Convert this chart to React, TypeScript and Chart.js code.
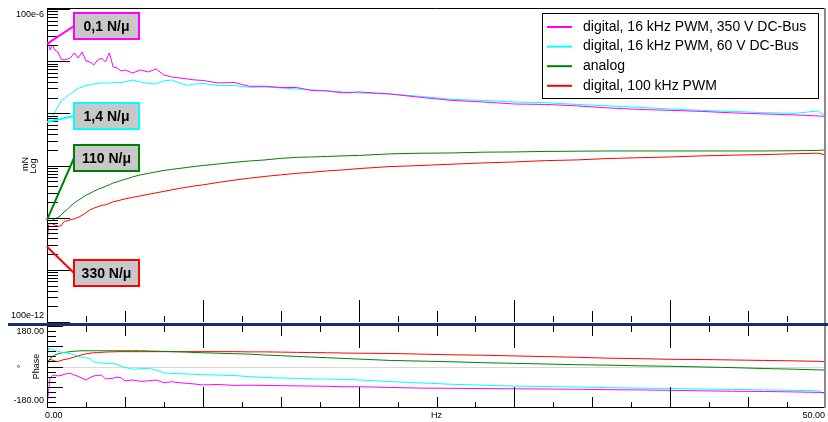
import React, { useEffect, useRef } from 'react';
import { Chart, registerables } from 'chart.js';

Chart.register(...registerables);

// ---------------- data ----------------
const frequencyHz = [
  0, 0.1, 0.2, 0.35, 0.5, 0.7, 0.9, 1.1, 1.3, 1.5,
  1.75, 2, 2.25, 2.5, 2.75, 3, 3.25, 3.5, 3.75, 4,
  4.25, 4.5, 4.75, 5, 5.5, 6, 6.5, 7, 7.5, 8,
  8.5, 9, 9.5, 10, 11, 12, 13, 14, 15, 16,
  17, 18, 19, 20, 22, 24, 26, 28, 30, 32,
  34, 36, 38, 40, 42, 44, 46, 48, 49.5, 50,
];

const magDigital350 = [
  2.14e-5, 2.23e-5, 1.64e-5, 2.04e-5, 1.64e-5, 1.5e-5, 1.1e-5, 1.05e-5, 1.1e-5, 1.15e-5,
  1.44e-5, 1.15e-5, 1.5e-5, 1.01e-5, 9.65e-6, 8.46e-6, 1.05e-5, 1.15e-5, 9.65e-6, 1.44e-5,
  7.74e-6, 7.41e-6, 6.49e-6, 6.78e-6, 5.94e-6, 6.78e-6, 6.21e-6, 7.09e-6, 5.44e-6, 4.98e-6,
  4.77e-6, 4.56e-6, 4.36e-6, 4.27e-6, 3.82e-6, 3.9e-6, 3.3e-6, 3.3e-6, 3.13e-6, 3.13e-6,
  2.75e-6, 2.69e-6, 2.46e-6, 2.57e-6, 2.35e-6, 2.02e-6, 1.77e-6, 1.65e-6, 1.51e-6, 1.48e-6,
  1.39e-6, 1.27e-6, 1.19e-6, 1.14e-6, 1.09e-6, 1.02e-6, 9.74e-7, 9.32e-7, 8.92e-7, 8.73e-7,
];
const magDigital60 = [
  6.84e-7, 7.15e-7, 8.17e-7, 8.92e-7, 1.06e-6, 1.33e-6, 1.73e-6, 1.89e-6, 2.15e-6, 2.35e-6,
  2.69e-6, 3.0e-6, 3.2e-6, 3.42e-6, 3.5e-6, 3.66e-6, 3.74e-6, 3.82e-6, 3.82e-6, 3.82e-6,
  3.91e-6, 3.91e-6, 3.91e-6, 4.0e-6, 4.36e-6, 4.0e-6, 3.74e-6, 3.66e-6, 4.18e-6, 4.36e-6,
  3.82e-6, 3.42e-6, 3.66e-6, 3.74e-6, 3.42e-6, 3.42e-6, 3.16e-6, 3.2e-6, 3.07e-6, 2.93e-6,
  2.81e-6, 2.69e-6, 2.57e-6, 2.46e-6, 2.35e-6, 2.11e-6, 1.85e-6, 1.77e-6, 1.65e-6, 1.6e-6,
  1.48e-6, 1.39e-6, 1.3e-6, 1.21e-6, 1.14e-6, 1.09e-6, 1.03e-6, 1.0e-6, 1.11e-6, 8.73e-7,
];
const magAnalog = [
  9.08e-9, 8.88e-9, 8.69e-9, 8.88e-9, 9.48e-9, 1.01e-8, 1.11e-8, 1.29e-8, 1.44e-8, 1.65e-8,
  1.92e-8, 2.15e-8, 2.4e-8, 2.68e-8, 2.92e-8, 3.19e-8, 3.48e-8, 3.72e-8, 3.98e-8, 4.25e-8,
  4.64e-8, 4.85e-8, 5.18e-8, 5.42e-8, 6.05e-8, 6.61e-8, 7.06e-8, 7.54e-8, 8.05e-8, 8.42e-8,
  8.8e-8, 9.19e-8, 9.61e-8, 1.0e-7, 1.07e-7, 1.15e-7, 1.22e-7, 1.28e-7, 1.37e-7, 1.43e-7,
  1.46e-7, 1.49e-7, 1.53e-7, 1.56e-7, 1.67e-7, 1.72e-7, 1.74e-7, 1.8e-7, 1.82e-7, 1.86e-7,
  1.88e-7, 1.9e-7, 1.9e-7, 1.9e-7, 1.9e-7, 1.9e-7, 1.9e-7, 1.92e-7, 1.95e-7, 1.99e-7,
];
const magDigital100k = [
  2.76e-9, 7.28e-9, 7.78e-9, 7.61e-9, 7.28e-9, 6.81e-9, 6.96e-9, 8.5e-9, 8.69e-9, 9.08e-9,
  9.48e-9, 1.01e-8, 1.11e-8, 1.24e-8, 1.41e-8, 1.52e-8, 1.61e-8, 1.72e-8, 1.76e-8, 1.88e-8,
  2.01e-8, 2.1e-8, 2.19e-8, 2.29e-8, 2.45e-8, 2.62e-8, 2.8e-8, 2.99e-8, 3.19e-8, 3.41e-8,
  3.64e-8, 3.84e-8, 4.07e-8, 4.25e-8, 4.74e-8, 5.23e-8, 5.71e-8, 6.18e-8, 6.61e-8, 7.06e-8,
  7.44e-8, 7.88e-8, 8.23e-8, 8.72e-8, 9.53e-8, 1.0e-7, 1.06e-7, 1.12e-7, 1.17e-7, 1.24e-7,
  1.28e-7, 1.36e-7, 1.41e-7, 1.46e-7, 1.53e-7, 1.58e-7, 1.62e-7, 1.68e-7, 1.72e-7, 1.6e-7,
];

const phaseDigital350 = [
  -180, -110, -50, -40, -38, -42, -40, -35, -32, -30,
  -38, -44, -52, -60, -50, -42, -40, -38, -55, -54,
  -52, -47, -50, -64, -60, -66, -64, -60, -72, -68,
  -72, -75, -78, -82, -80, -84, -83, -84, -85, -86,
  -87, -88, -90, -90, -93, -96, -97, -98, -99, -100,
  -101, -103, -104, -106, -108, -110, -111, -113, -115, -116,
];
const phaseDigital60 = [
  40, 81, 79, 76, 72, 67, 64, 62, 60, 58,
  52, 46, 41, 38, 36, 21, 18, 15, 14, 14,
  14, 8, 2, -4, -12, -10, -8, -16, -28, -31,
  -32, -33, -35, -36, -38, -40, -45, -49, -51, -53,
  -55, -56, -57, -60, -67, -73, -79, -83, -87, -89,
  -91, -94, -96, -98, -100, -102, -104, -106, -108, -125,
];
const phaseAnalog = [
  7, 24, 36, 44, 51, 56, 60, 62, 64, 66,
  68, 69, 70, 70, 70, 70, 70, 70, 70, 70,
  70, 70, 70, 70, 70, 70, 69, 68, 67, 66,
  65, 64, 62, 61, 59, 57, 55, 51, 48, 45,
  42, 39, 36, 33, 27, 24, 21, 17, 14, 11,
  8, 6, 3, 1, -2, -5, -9, -12, -15, -16,
];
const phaseDigital100k = [
  14, 24, 32, 28, 24, 22, 27, 31, 33, 37,
  42, 47, 52, 56, 59, 61, 62, 63, 64, 65,
  65, 66, 66, 66, 66, 66, 66, 66, 66, 66,
  66, 66, 66, 66, 66, 66, 65, 65, 64, 63,
  62, 61, 60, 59, 58, 55, 52, 50, 47, 44,
  41, 37, 35, 32, 31, 29, 27, 25, 23, 21,
];

const seriesNames = [
  'digital, 16 kHz PWM, 350 V DC-Bus',
  'digital, 16 kHz PWM, 60 V DC-Bus',
  'analog',
  'digital, 100 kHz PWM',
];
const magSeries = [magDigital350, magDigital60, magAnalog, magDigital100k];
const phaseSeries = [phaseDigital350, phaseDigital60, phaseAnalog, phaseDigital100k];
const stiffnessLabels = ['0,1 N/μ', '1,4 N/μ', '110 N/μ', '330 N/μ'];

const magTickValues = [1e-4, 1e-10];
const magTickLabels = ['100e-6', '100e-12'];
const phaseTickValues = [180, -180];
const phaseTickLabels = ['180.00', '-180.00'];
const freqTickValues = [0, 50];
const freqTickLabels = ['0.00', '50.00'];
const freqTitle = 'Hz';
const magTitles = ['mN', 'Log'];
const phaseTitles = ['°', 'Phase'];

// ---------------- styles / layout ----------------
const COLORS = ['#ff00ff', '#00ffff', '#008000', '#ff0000'];
const FONT = '"Liberation Sans", Arial, Helvetica, sans-serif';
const BOX_TOPS = [13, 103, 145, 260];
const BOX_LEFT_OFFSET = 27;
const BOX_W = 65;
const BOX_H = 26;

function line(ctx: any, x1: number, y1: number, x2: number, y2: number) {
  ctx.beginPath();
  ctx.moveTo(x1, y1);
  ctx.lineTo(x2, y2);
  ctx.stroke();
}

function drawFreqTicks(ctx: any, xs: any, y0: number, dir: number, lens: number[]) {
  ctx.strokeStyle = '#000';
  ctx.lineWidth = 1;
  for (let i = 1; i < 20; i++) {
    const f = i * 2.5;
    const x = Math.round(xs.getPixelForValue(f)) + 0.5;
    const len = f % 10 === 0 ? lens[0] : f % 5 === 0 ? lens[1] : lens[2];
    line(ctx, x, y0, x, y0 + dir * len);
  }
}

const topOverlay = {
  id: 'topOverlay',
  afterDatasetsDraw(chart: any) {
    const { ctx, chartArea: a, scales } = chart;
    const xs = scales.x;
    const ys = scales.y;
    ctx.save();
    // frame
    ctx.strokeStyle = '#000';
    ctx.lineWidth = 1;
    line(ctx, a.left, a.top - 0.5, a.right, a.top - 0.5);
    line(ctx, a.left + 0.5, a.top - 1, a.left + 0.5, a.bottom + 1);
    ctx.fillStyle = '#8a8a8a';
    ctx.fillRect(a.right - 2, a.top - 1, 2, a.bottom - a.top + 2);

    // y ticks (log)
    ctx.strokeStyle = '#000';
    for (let e = -10; e <= -4; e++) {
      for (let m = 1; m <= 9; m++) {
        const v = m * Math.pow(10, e);
        if (v > 1.0001e-4) break;
        const y = Math.round(ys.getPixelForValue(v)) + 0.5;
        const len = m === 1 ? 23 : 11;
        line(ctx, a.left, y, a.left + len, y);
      }
    }
    // x ticks upward from bottom
    drawFreqTicks(ctx, xs, a.bottom, -1, [22, 11, 6]);

    // separator
    ctx.fillStyle = '#14306f';
    ctx.fillRect(8, a.bottom + 1, 820, 3);

    // tick labels
    ctx.fillStyle = '#000';
    ctx.font = `9px ${FONT}`;
    ctx.textAlign = 'right';
    ctx.textBaseline = 'middle';
    magTickValues.forEach((v, i) => {
      const y = ys.getPixelForValue(v) + (i === 0 ? 6 : -6);
      ctx.fillText(magTickLabels[i], a.left - 3, y);
    });
    // axis titles
    ctx.textAlign = 'center';
    const titleX = [25.5, 34];
    const titleY = [164, 166];
    magTitles.forEach((t, i) => {
      ctx.save();
      ctx.translate(titleX[i], titleY[i]);
      ctx.rotate(-Math.PI / 2);
      ctx.fillText(t, 0, 0);
      ctx.restore();
    });

    // annotations
    magSeries.forEach((s, i) => {
      const ax = xs.getPixelForValue(frequencyHz[0]);
      const ay = ys.getPixelForValue(s[0]);
      const bx = a.left + BOX_LEFT_OFFSET;
      const by = BOX_TOPS[i];
      ctx.strokeStyle = COLORS[i];
      ctx.lineWidth = 2;
      line(ctx, ax, ay, bx, by + BOX_H / 2);
      ctx.fillStyle = '#c8c8c8';
      ctx.fillRect(bx, by, BOX_W, BOX_H);
      ctx.strokeRect(bx, by, BOX_W, BOX_H);
      ctx.fillStyle = '#000';
      ctx.font = `bold 14px ${FONT}`;
      ctx.textAlign = 'center';
      ctx.textBaseline = 'middle';
      ctx.fillText(stiffnessLabels[i], bx + BOX_W / 2, by + BOX_H / 2 + 1);
    });

    // legend
    const lx = 542.5, ly = 13.5, lw = 276, lh = 85;
    ctx.fillStyle = '#fff';
    ctx.fillRect(lx, ly, lw, lh);
    ctx.strokeStyle = '#000';
    ctx.lineWidth = 1;
    ctx.strokeRect(lx, ly, lw, lh);
    ctx.font = `14px ${FONT}`;
    ctx.textAlign = 'left';
    ctx.textBaseline = 'middle';
    seriesNames.forEach((n, i) => {
      const y = 27 + i * 19.6;
      ctx.strokeStyle = COLORS[i];
      ctx.lineWidth = 2;
      line(ctx, 547, y, 572, y);
      ctx.fillStyle = '#000';
      ctx.fillText(n, 583, y);
    });
    ctx.restore();
  },
};

const bottomOverlay = {
  id: 'bottomOverlay',
  beforeDatasetsDraw(chart: any) {
    const { ctx, chartArea: a, scales } = chart;
    const y0 = Math.round(scales.y.getPixelForValue(0)) + 0.5;
    ctx.save();
    ctx.strokeStyle = '#d8d8d8';
    ctx.lineWidth = 1;
    line(ctx, a.left, y0, a.right, y0);
    ctx.restore();
  },
  afterDatasetsDraw(chart: any) {
    const { ctx, chartArea: a, scales } = chart;
    const xs = scales.x;
    const ys = scales.y;
    ctx.save();
    ctx.strokeStyle = '#000';
    ctx.lineWidth = 1;
    line(ctx, a.left + 0.5, a.top, a.left + 0.5, a.bottom + 1);
    line(ctx, a.left, a.bottom + 0.5, a.right, a.bottom + 0.5);
    ctx.fillStyle = '#8a8a8a';
    ctx.fillRect(a.right - 2, a.top, 2, a.bottom - a.top + 1);

    // phase ticks
    ctx.strokeStyle = '#000';
    for (let k = -8; k <= 8; k++) {
      const v = k * 22.5;
      const y = Math.round(ys.getPixelForValue(v)) + 0.5;
      const len = k % 4 === 0 ? 16 : 9;
      line(ctx, a.left, y, a.left + len, y);
    }
    drawFreqTicks(ctx, xs, a.top, 1, [22, 10, 6]);
    drawFreqTicks(ctx, xs, a.bottom, -1, [20, 10, 5]);

    ctx.fillStyle = '#000';
    ctx.font = `9px ${FONT}`;
    ctx.textAlign = 'right';
    ctx.textBaseline = 'middle';
    phaseTickValues.forEach((v, i) => {
      const y = ys.getPixelForValue(v) + (i === 0 ? 6 : -6);
      ctx.fillText(phaseTickLabels[i], a.left - 3, y);
    });
    const ly = a.bottom + 9;
    ctx.textAlign = 'left';
    ctx.fillText(freqTickLabels[0], xs.getPixelForValue(freqTickValues[0]) - 2, ly);
    ctx.textAlign = 'right';
    ctx.fillText(freqTickLabels[1], xs.getPixelForValue(freqTickValues[1]) - 1, ly);
    ctx.textAlign = 'center';
    ctx.fillText(freqTitle, xs.getPixelForValue(25), ly);

    const cy = ys.getPixelForValue(0);
    const tx = [22, 36.5];
    phaseTitles.forEach((t, i) => {
      ctx.save();
      ctx.translate(tx[i], cy);
      ctx.rotate(-Math.PI / 2);
      ctx.fillText(t, 0, 0);
      ctx.restore();
    });
    ctx.restore();
  },
};

function makeDatasets(series: number[][]) {
  return series.map((s, i) => ({
    label: seriesNames[i],
    data: frequencyHz.map((f, j) => ({ x: f, y: s[j] })),
    borderColor: COLORS[i],
    backgroundColor: COLORS[i],
    borderWidth: 1,
    pointRadius: 0,
    fill: false,
    tension: 0,
  }));
}

export default function App() {
  const topRef = useRef<HTMLCanvasElement>(null);
  const botRef = useRef<HTMLCanvasElement>(null);

  useEffect(() => {
    const common = {
      animation: false,
      responsive: false,
      devicePixelRatio: 1,
      events: [],
      plugins: { legend: { display: false }, tooltip: { enabled: false } },
    };
    const top = new Chart(topRef.current as HTMLCanvasElement, {
      type: 'line',
      data: { datasets: makeDatasets(magSeries) as any },
      options: {
        ...common,
        layout: { padding: { left: 47, top: 9, right: 2, bottom: 4 } },
        scales: {
          x: { type: 'linear', min: 0, max: 50, display: false },
          y: { type: 'logarithmic', min: 1e-10, max: 1e-4, display: false },
        },
      } as any,
      plugins: [topOverlay],
    });
    const bot = new Chart(botRef.current as HTMLCanvasElement, {
      type: 'line',
      data: { datasets: makeDatasets(phaseSeries) as any },
      options: {
        ...common,
        layout: { padding: { left: 47, top: 0, right: 2, bottom: 15 } },
        scales: {
          x: { type: 'linear', min: 0, max: 50, display: false },
          y: { type: 'linear', min: -180, max: 180, display: false },
        },
      } as any,
      plugins: [bottomOverlay],
    });
    return () => {
      top.destroy();
      bot.destroy();
    };
  }, []);

  return (
    <div style={{ position: 'absolute', left: 0, top: 0, width: 828, height: 422, background: '#fff', overflow: 'hidden' }}>
      <canvas ref={topRef} width={828} height={326} style={{ position: 'absolute', left: 0, top: 0, width: 828, height: 326 }} />
      <canvas ref={botRef} width={828} height={96} style={{ position: 'absolute', left: 0, top: 326, width: 828, height: 96 }} />
    </div>
  );
}
